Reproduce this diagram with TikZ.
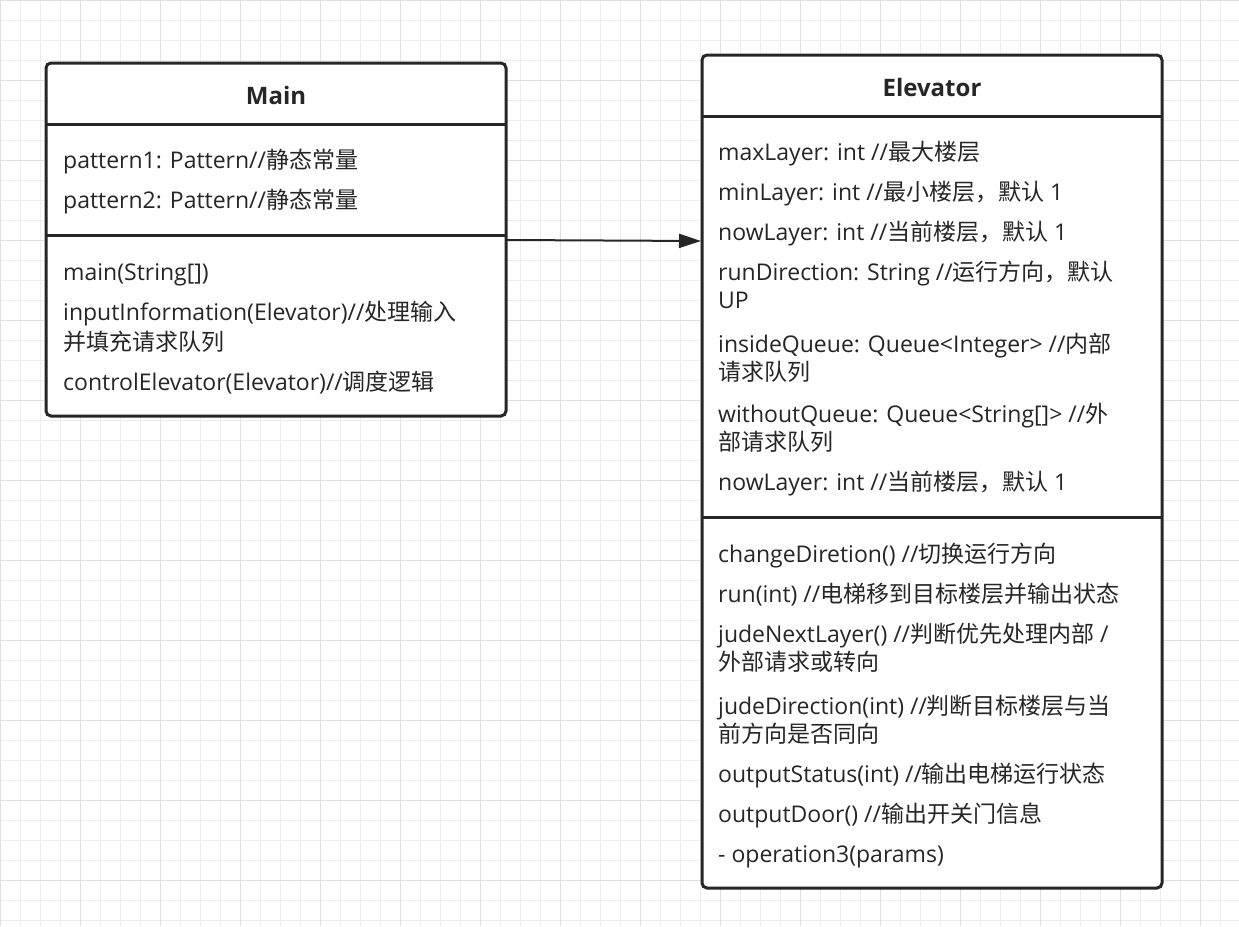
\documentclass[tikz,border=0pt]{standalone}
\usepackage{fontspec}
\setmainfont{Open Sans}
\newfontfamily\cj{Noto Sans CJK SC}
\newcommand{\zh}[1]{{\cj #1}}
\usetikzlibrary{arrows.meta}
\begin{document}
\begin{tikzpicture}[x=1pt,y=-1pt,
  box/.style={draw=black!85,line width=3pt,rounded corners=5pt,fill=white},
  sep/.style={draw=black!85,line width=3pt},
  t/.style={anchor=base west,inner sep=0pt,font=\fontsize{23}{26}\selectfont,text=black!85},
  title/.style={anchor=center,inner sep=0pt,font=\fontsize{24}{26}\selectfont\bfseries,text=black!85}]
\useasboundingbox (0,0) rectangle (1239,926);
\fill[white] (0,0) rectangle (1239,926);
\foreach \i in {0,20,...,1239} \draw[black!7,line width=0.8pt] (\i,0) -- (\i,926);
\foreach \i in {0,20,...,926} \draw[black!7,line width=0.8pt] (0,\i) -- (1239,\i);
\foreach \i in {0,80,...,1239} \draw[black!12,line width=1pt] (\i,0) -- (\i,926);
\foreach \i in {0,80,...,926} \draw[black!12,line width=1pt] (0,\i) -- (1239,\i);
% Main
\draw[box] (46,63) rectangle (506,416);
\node[title] (mt) at (276,95) {Main};
\draw[sep] (46,124) -- (506,124);
\draw[sep] (46,235) -- (506,235);
\node[t] (m1) at (63,168) {pattern1: Pattern//\zh{静态常量}};
\node[t] (m2) at (63,208) {pattern2: Pattern//\zh{静态常量}};
\node[t] (m3) at (63,280) {main(String[])};
\node[t] (m4) at (63,320) {inputInformation(Elevator)//\zh{处理输入}};
\node[t] (m5) at (63,350) {\zh{并填充请求队列}};
\node[t] (m6) at (63,390) {controlElevator(Elevator)//\zh{调度逻辑}};
% Elevator
\draw[box] (702,55) rectangle (1162,888);
\node[title] (et) at (932,87) {Elevator};
\draw[sep] (702,116) -- (1162,116);
\draw[sep] (702,517) -- (1162,517);
\node[t] (e1) at (718,160) {maxLayer: int //\zh{最大楼层}};
\node[t] (e2) at (718,200) {minLayer: int //\zh{最小楼层，默认} 1};
\node[t] (e3) at (718,240) {nowLayer: int //\zh{当前楼层，默认} 1};
\node[t] (e4) at (718,280) {runDirection: String //\zh{运行方向，默认}};
\node[t] (e5) at (718,308) {UP};
\node[t] (e6) at (718,352) {insideQueue: Queue<Integer> //\zh{内部}};
\node[t] (e7) at (718,380) {\zh{请求队列}};
\node[t] (e8) at (718,422) {withoutQueue: Queue<String[]> //\zh{外}};
\node[t] (e9) at (718,450) {\zh{部请求队列}};
\node[t] (e10) at (718,490) {nowLayer: int //\zh{当前楼层，默认} 1};
\node[t] (f1) at (718,562) {changeDiretion() //\zh{切换运行方向}};
\node[t] (f2) at (718,602) {run(int) //\zh{电梯移到目标楼层并输出状态}};
\node[t] (f3) at (718,642) {judeNextLayer() //\zh{判断优先处理内部} /};
\node[t] (f4) at (718,670) {\zh{外部请求或转向}};
\node[t] (f5) at (718,714) {judeDirection(int) //\zh{判断目标楼层与当}};
\node[t] (f6) at (718,742) {\zh{前方向是否同向}};
\node[t] (f7) at (718,782) {outputStatus(int) //\zh{输出电梯运行状态}};
\node[t] (f8) at (718,822) {outputDoor() //\zh{输出开关门信息}};
\node[t] (f9) at (718,862) {- operation3(params)};
\coordinate (a1) at (507,240);
\coordinate (a2) at (701,241);
\draw[black!85,line width=2pt,-{Triangle[length=22pt,width=14pt]}] (a1) -- (a2);
\end{tikzpicture}
\end{document}
